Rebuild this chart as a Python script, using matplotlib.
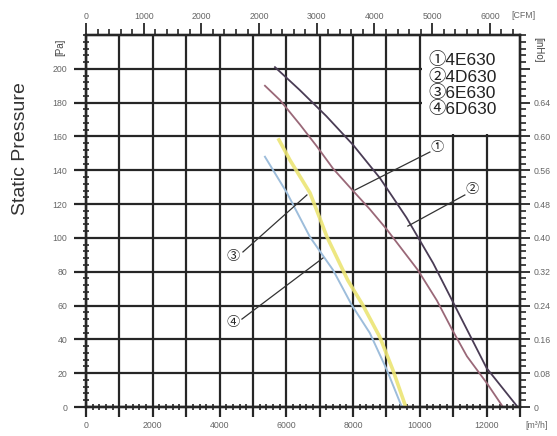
import matplotlib
matplotlib.use('Agg')
import matplotlib.pyplot as plt
from matplotlib.patches import Rectangle
from matplotlib.ticker import MultipleLocator

plt.rcParams['font.family'] = ['Liberation Sans', 'Noto Sans CJK SC', 'DejaVu Sans']

# airflow [m3/h] vs static pressure [Pa]
flow_4e630 = [5360, 5810, 6410, 6920, 7400, 7900, 8500, 9010, 9940, 10510, 10960, 11410, 12010, 12490]
pres_4e630 = [190, 181.5, 167, 154, 141, 130, 117, 105, 81, 63, 46, 30, 14, 0]

flow_4d630 = [5660, 6400, 7200, 8000, 8800, 9600, 10400, 11200, 12000, 12930]
pres_4d630 = [201, 187.5, 172, 155, 135.5, 112, 85, 54, 23, 0]

flow_6e630 = [5780, 6110, 6710, 7220, 7840, 8290, 8800, 9190, 9580]
pres_6e630 = [158, 146, 126.6, 100.5, 75, 60.3, 41.4, 22, 0]

flow_6d630 = [5360, 6020, 6710, 7400, 7960, 8500, 9010, 9460]
pres_6d630 = [148, 126.6, 100.5, 81, 60.3, 43.8, 22, 0]

models = ['4E630', '4D630', '6E630', '6D630']
marks = ['①', '②', '③', '④']

x_major = list(range(0, 13001, 1000))
x_labels = [str(v) if v % 2000 == 0 and v < 13000 else '' for v in x_major]
y_major = list(range(0, 201, 20))
y_labels = [str(v) for v in y_major]

# top axis as printed (label sequence kept as on the sheet)
cfm_labels = ['0', '1000', '2000', '2000', '3000', '4000', '5000', '6000']
cfm_step = 1728
inh_labels = ['0', '0.08', '0.16', '0.24', '0.32', '0.40', '0.48', '0.56', '0.60', '0.64', '']

grid_c = '#262626'
lab_c = '#666666'

fig = plt.figure(figsize=(5.57, 4.36), dpi=100)
ax = fig.add_axes([0.1544, 0.0665, 0.7792, 0.8532])
ax.set_xlim(0, 13000)
ax.set_ylim(0, 220)
ax.set_axisbelow(True)

ax.set_xticks(x_major)
ax.set_xticklabels(x_labels)
ax.set_yticks(y_major)
ax.set_yticklabels(y_labels)
ax.xaxis.set_minor_locator(MultipleLocator(200))
ax.yaxis.set_minor_locator(MultipleLocator(4))
ax.grid(which='major', color=grid_c, lw=1.6)
ax.tick_params(axis='x', which='major', direction='out', length=7, width=1.6,
               color=grid_c, labelsize=6.3, labelcolor=lab_c, pad=3)
ax.tick_params(axis='y', which='major', direction='out', length=8.5, width=1.6,
               color=grid_c, labelsize=6.3, labelcolor=lab_c, pad=5)
ax.tick_params(which='minor', direction='inout', length=5, width=1.2, color=grid_c)
for s in ax.spines.values():
    s.set_color(grid_c)
    s.set_linewidth(1.6)

# top CFM axis
ax_top = ax.twiny()
ax_top.set_xlim(0, 13000)
ax_top.set_xticks([k * cfm_step for k in range(len(cfm_labels))])
ax_top.set_xticklabels(cfm_labels)
ax_top.xaxis.set_minor_locator(MultipleLocator(cfm_step / 5))
ax_top.tick_params(which='major', direction='out', length=9, width=1.3,
                   color=grid_c, labelsize=6.3, labelcolor=lab_c, pad=1)
ax_top.tick_params(which='minor', direction='out', length=4.5, width=1.2, color=grid_c)

# right inH2O axis
ax_r = ax.twinx()
ax_r.set_ylim(0, 220)
ax_r.set_yticks(y_major)
ax_r.set_yticklabels(inh_labels)
ax_r.yaxis.set_minor_locator(MultipleLocator(4))
ax_r.tick_params(which='major', direction='out', length=7, width=1.3,
                 color=grid_c, labelsize=6.3, labelcolor=lab_c, pad=3)
ax_r.tick_params(which='minor', direction='out', length=4, width=1.2, color=grid_c)
for a in (ax_top, ax_r):
    for s in a.spines.values():
        s.set_color(grid_c)
        s.set_linewidth(1.6)

# curves
ax.plot(flow_6d630, pres_6d630, color='#9dbddb', lw=1.4, zorder=3)
ax.plot(flow_6e630, pres_6e630, color='#ece574', lw=2.6, alpha=0.9, zorder=3)
ax.plot(flow_4e630, pres_4e630, color='#9a6878', lw=1.3, zorder=3)
ax.plot(flow_4d630, pres_4d630, color='#4a3c55', lw=1.3, zorder=3)

# legend box over the grid
ax.add_patch(Rectangle((10050, 161.5), 2950, 58.5, facecolor='white',
                       edgecolor='none', zorder=1.5))
for i, (m, name) in enumerate(zip(marks, models)):
    ax.text(10250, [205.2, 195.1, 185.7, 176.2][i], m + name, fontsize=12.5,
            va='center', ha='left', color='#222222', zorder=4)

# callouts
callouts = [
    ('①', (10509, 153.2), (10300, 150.8), (8054, 128.3)),
    ('②', (11557, 128.3), (11347, 125.4), (9641, 107.0)),
    ('③', (4401, 88.7), (4701, 91.7), (6617, 125.4)),
    ('④', (4401, 49.7), (4671, 52.0), (7096, 88.1)),
]
for m, pos, p0, p1 in callouts:
    ax.plot([p0[0], p1[0]], [p0[1], p1[1]], color='#333333', lw=0.9, zorder=4)
    ax.text(pos[0], pos[1], m, fontsize=9.5, ha='center', va='center',
            color='#222222', zorder=5)

fig.text(0.036, 0.66, 'Static Pressure', rotation=90, fontsize=14,
         ha='center', va='center', color='#333333')
fig.text(60 / 557, 1 - 47 / 436, '[Pa]', rotation=90, fontsize=7,
         ha='center', va='center', color='#444444')
fig.text(538 / 557, 1 - 50 / 436, '[inHo]', rotation=-90, fontsize=7,
         ha='center', va='center', color='#444444')
fig.text(523 / 557, 1 - 15 / 436, '[CFM]', fontsize=6.3,
         ha='center', va='center', color=lab_c)
fig.text(537 / 557, 1 - 425 / 436, '[m³/h]', fontsize=6.3,
         ha='center', va='center', color=lab_c)

fig.savefig('out.png', dpi=100)
